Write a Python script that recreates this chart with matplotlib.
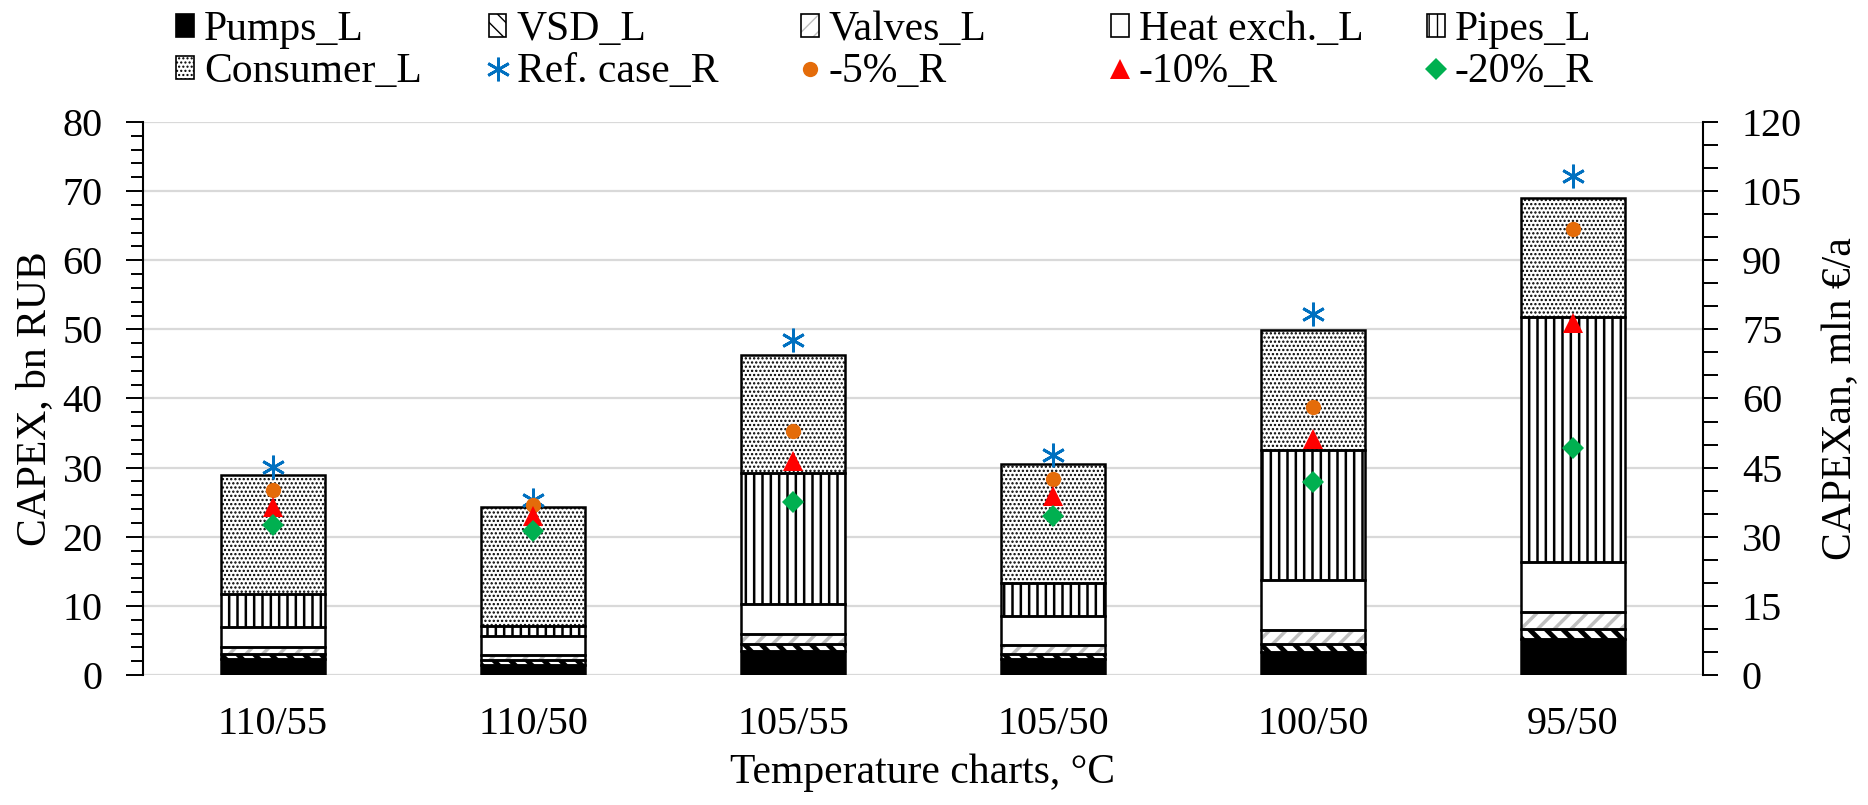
import matplotlib
matplotlib.use("Agg")
import matplotlib.pyplot as plt
from matplotlib.ticker import MultipleLocator
from matplotlib.patches import Patch
from matplotlib.lines import Line2D

plt.rcParams["font.family"] = ["Liberation Serif", "DejaVu Serif"]

# ---- data (left axis: CAPEX bn RUB, stacked) ----
categories = ["110/55", "110/50", "105/55", "105/50", "100/50", "95/50"]
pumps = [2.3, 1.45, 3.4, 2.3, 3.3, 5.2]
vsd = [0.7, 0.65, 1.1, 0.7, 1.15, 1.4]
valves = [1.0, 0.8, 1.5, 1.4, 2.05, 2.5]
heat_exch = [2.9, 2.8, 4.3, 4.2, 7.3, 7.2]
pipes = [4.8, 1.45, 18.9, 4.7, 18.8, 35.5]
consumer = [17.2, 17.15, 17.1, 17.2, 17.3, 17.2]

# ---- data (right axis: CAPEXan mln EUR/a) ----
ref_case = [45.1, 38.0, 72.6, 47.8, 78.3, 108.2]
minus5 = [40.1, 36.8, 52.9, 42.6, 58.2, 96.7]
minus10 = [36.5, 34.4, 46.4, 38.9, 51.2, 76.3]
minus20 = [32.6, 31.2, 37.5, 34.6, 41.9, 49.3]

FS = 29
W = 0.4

# (label, values, face, hatch, hatch colour, hatch linewidth)
layers = [
    ("Pumps_L", pumps, "black", None, "black", 1.0),
    ("VSD_L", vsd, "white", "\\\\", "black", 3.5),
    ("Valves_L", valves, "white", "//", "#bfbfbf", 2.5),
    ("Heat exch._L", heat_exch, "white", None, "black", 1.0),
    ("Pipes_L", pipes, "white", "||", "black", 1.8),
    ("Consumer_L", consumer, "white", "....", "black", 1.1),
]

fig = plt.figure(figsize=(18.68, 8.05), dpi=100)
ax = fig.add_axes([143 / 1868, 130 / 805, 1560 / 1868, 553 / 805])
x = list(range(len(categories)))

bottom = [0.0] * len(categories)
handles = {}
for label, vals, face, hatch, hcol, hlw in layers:
    # hatch drawn in its own colour, black outline drawn on top
    with plt.rc_context({"hatch.linewidth": hlw}):
        ax.bar(x, vals, W, bottom=bottom, color=face, edgecolor=hcol,
               hatch=hatch, linewidth=0, zorder=2)
        fill = Patch(facecolor=face, edgecolor=hcol, hatch=hatch, linewidth=0)
    ax.bar(x, vals, W, bottom=bottom, fill=False, edgecolor="black",
           linewidth=1.8, zorder=3)
    handles[label] = (fill, Patch(fill=False, edgecolor="black", linewidth=1.2))
    bottom = [b + v for b, v in zip(bottom, vals)]

ax.set_xlim(-0.5, len(categories) - 0.5)
ax.set_ylim(0, 80)
ax.yaxis.set_major_locator(MultipleLocator(10))
ax.yaxis.set_minor_locator(MultipleLocator(2))
ax.grid(axis="y", color="#d9d9d9", linewidth=1.6, zorder=0)
ax.set_axisbelow(True)
ax.set_xticks(x)
ax.set_xticklabels(categories)
ax.tick_params(axis="x", length=0, pad=22, labelsize=FS)
ax.tick_params(axis="y", which="major", length=12, width=1.4, pad=17, labelsize=FS)
ax.tick_params(axis="y", which="minor", length=9, width=1.4)
for s in ("top", "bottom", "right"):
    ax.spines[s].set_visible(False)
ax.spines["left"].set_linewidth(1.5)
ax.set_ylabel("CAPEX, bn RUB", fontsize=FS + 1, labelpad=6)
ax.set_xlabel("Temperature charts, °C", fontsize=FS + 1, labelpad=8)

# ---- right axis markers ----
ax2 = ax.twinx()
ax2.set_ylim(0, 120)
ax2.yaxis.set_major_locator(MultipleLocator(15))
ax2.yaxis.set_minor_locator(MultipleLocator(5))
ax2.tick_params(axis="y", which="major", length=11, width=1.4, pad=17, labelsize=FS)
ax2.tick_params(axis="y", which="minor", length=11, width=1.4)
for s in ("top", "bottom", "left"):
    ax2.spines[s].set_visible(False)
ax2.spines["right"].set_linewidth(1.5)
ax2.set_ylabel("CAPEXan, mln €/a", fontsize=FS + 1, labelpad=14)

markers = [
    ("Ref. case_R", ref_case, dict(marker=(6, 2, 0), color="#0070c0", ms=17, mew=2.0)),
    ("-5%_R", minus5, dict(marker="o", color="#e46c0a", ms=11, mew=0)),
    ("-10%_R", minus10, dict(marker="^", color="#ff0000", ms=14, mew=0)),
    ("-20%_R", minus20, dict(marker="D", color="#00b050", ms=11.5, mew=0)),
]
for label, vals, style in markers:
    ax2.plot(x, vals, linestyle="none", zorder=5, **style)
    handles[label] = Line2D([], [], linestyle="none", **style)

# ---- legend: 5 columns x 2 rows, evenly spaced like the original ----
rows = [["Pumps_L", "VSD_L", "Valves_L", "Heat exch._L", "Pipes_L"],
        ["Consumer_L", "Ref. case_R", "-5%_R", "-10%_R", "-20%_R"]]
col_x = [176, 489, 801, 1111, 1427]
row_y = [30, 72]
for r, names in enumerate(rows):
    for c, name in enumerate(names):
        fig.legend([handles[name]], [name], loc="center left",
                   bbox_to_anchor=(col_x[c] / 1868, 1 - row_y[r] / 805),
                   frameon=False, fontsize=FS + 1, borderpad=0,
                   borderaxespad=0, handlelength=0.42, handleheight=0.5,
                   handletextpad=0.25)

fig.savefig("out.png", dpi=100)
